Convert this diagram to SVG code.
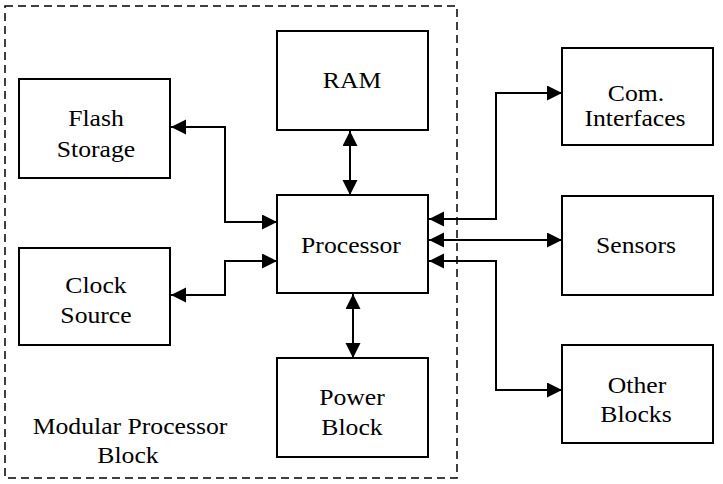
<svg xmlns="http://www.w3.org/2000/svg" width="723" height="484" viewBox="0 0 723 484">
<defs>
<marker id="ah" markerUnits="userSpaceOnUse" markerWidth="16" markerHeight="16" refX="15" refY="7.5" orient="auto-start-reverse">
<path d="M0,0 L15,7.5 L0,15 z" fill="#000"/>
</marker>
<style>
.box{fill:#fff;stroke:#000;stroke-width:2}
.t{font-family:"Liberation Serif","Times New Roman","DejaVu Serif",serif;font-size:24px;fill:#000;text-anchor:middle}
.c{fill:none;stroke:#000;stroke-width:2;marker-start:url(#ah);marker-end:url(#ah)}
</style>
</defs>
<rect width="723" height="484" fill="#fff"/>
<g id="modular-block">
<rect x="5" y="6" width="452" height="472" fill="none" stroke="#000" stroke-width="1.5" stroke-dasharray="8,5"/>
<text class="t" transform="translate(130,434) scale(1.07,1)">Modular Processor</text>
<text class="t" transform="translate(128,463) scale(1.07,1)">Block</text>
</g>
<g id="ram">
<rect class="box" x="277" y="31" width="151" height="99"/>
<text class="t" transform="translate(352,88) scale(1.07,1)">RAM</text>
</g>
<g id="flash">
<rect class="box" x="19" y="79" width="151" height="99"/>
<text class="t" transform="translate(96,126) scale(1.07,1)">Flash</text>
<text class="t" transform="translate(96,157) scale(1.07,1)">Storage</text>
</g>
<g id="processor">
<rect class="box" x="277" y="195" width="151" height="98"/>
<text class="t" transform="translate(351,253) scale(1.07,1)">Processor</text>
</g>
<g id="clock">
<rect class="box" x="19" y="248" width="151" height="97"/>
<text class="t" transform="translate(96,293) scale(1.07,1)">Clock</text>
<text class="t" transform="translate(96,323) scale(1.07,1)">Source</text>
</g>
<g id="power">
<rect class="box" x="277" y="358" width="151" height="99"/>
<text class="t" transform="translate(352,405) scale(1.07,1)">Power</text>
<text class="t" transform="translate(352,435) scale(1.07,1)">Block</text>
</g>
<g id="com">
<rect class="box" x="562" y="48" width="151" height="97"/>
<text class="t" transform="translate(636,101) scale(1.07,1)">Com.</text>
<text class="t" transform="translate(635,126) scale(1.07,1)">Interfaces</text>
</g>
<g id="sensors">
<rect class="box" x="562" y="196" width="151" height="99"/>
<text class="t" transform="translate(636,253) scale(1.07,1)">Sensors</text>
</g>
<g id="other">
<rect class="box" x="562" y="345" width="151" height="98"/>
<text class="t" transform="translate(637,393) scale(1.07,1)">Other</text>
<text class="t" transform="translate(636,422) scale(1.07,1)">Blocks</text>
</g>
<g id="connectors">
<path class="c" d="M171,127 H225 V222 H277"/>
<path class="c" d="M171,295 H225 V261 H277"/>
<path class="c" d="M350,131 V195"/>
<path class="c" d="M353,294 V358"/>
<path class="c" d="M429,219 H496 V93 H562"/>
<path class="c" d="M429,240 H562"/>
<path class="c" d="M429,261 H496 V390 H562"/>
</g>
</svg>
